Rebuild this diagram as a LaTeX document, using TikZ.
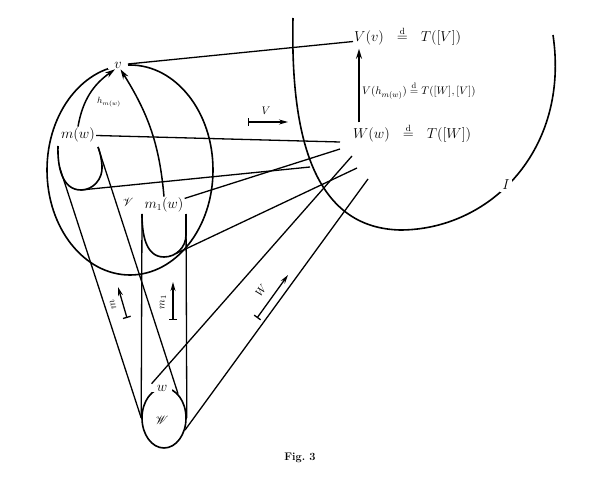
\documentclass[tikz,border=0pt]{standalone}
\usepackage{amsmath, amssymb}
\usepackage{mathrsfs}
\usetikzlibrary{positioning, arrows.meta, calc, shapes.geometric}
\newcommand{\deq}{\stackrel{\mathrm{d}}{=}}
\tikzset{
    set line/.style={line width=1.6pt, black},
    map line/.style={line width=1.3pt, black},
    label big/.style={fill=white, inner sep=1pt, font=\fontsize{13.5}{16}\selectfont},
    label small/.style={inner sep=1pt, font=\fontsize{11}{13}\selectfont},
    flow arrow/.style={line width=1.5pt, -{Stealth[length=10pt, width=6pt]}},
    dir arrow/.style={line width=1.3pt, {Bar[width=8pt]}-{Stealth[length=9pt, width=5pt]}},
}

\begin{document}
\begin{tikzpicture}[x=1pt, y=-1pt]
\useasboundingbox (0,0) rectangle (599,481);
% sets V, W and I
\node[draw, set line, ellipse, minimum width=166pt, minimum height=210pt, inner sep=0pt] (Vset) at (130,170) {};
\node[draw, set line, ellipse, minimum width=44pt, minimum height=60pt, inner sep=0pt] (Wset) at (164,418) {};
\draw[set line] (293,18) .. controls (290,150) and (320,228) .. (400,230) .. controls (490,230) and (570,150) .. (553,35);
% loops of m(w) and m1(w)
\draw[set line] (58,146) coordinate (mleft) to[out=-92,in=180] coordinate[pos=0.35] (mtan) (81,190) coordinate (mbot) to[out=0,in=-85] (102,166) to[out=95,in=-70] (98,147) coordinate (mright);
\draw[set line] (142,214) coordinate (m1left) to[out=-90,in=180] (164,257) to[out=0,in=-90] coordinate[pos=0.35] (m1tan) (186,235) -- (186,214) coordinate (m1right);
% labels
\node[label big, inner xsep=6pt] (v) at (118,65) {$v$};
\node[label big] (mw) at (78,135) {$m(w)$};
\node[label big] (m1w) at (164,205) {$m_1(w)$};
\node[label big, inner xsep=5pt] (w) at (162,388) {$w$};
\node[label big, inner sep=2pt] (I) at (506,185) {$I$};
\node[font=\fontsize{13}{15}\selectfont] (calV) at (128,202) {$\mathscr{V}$};
\node[font=\fontsize{12}{14}\selectfont] (calW) at (162,420) {$\mathscr{W}$};
\node[font=\fontsize{9}{11}\selectfont] (hlab) at (109,102) {$h_{m(w)}$};
\node[label big, anchor=base west] (Vv) at (353,42) {$V(v)\hskip9pt\deq\hskip9pt T([V])$};
\node[label big, anchor=base west] (Ww) at (352,139) {$W(w)\hskip9pt\deq\hskip9pt T([W])$};
\node[label small, anchor=base west] (hmap) at (361,95) {$V(h_{m(w)})\deq T([W],[V])$};
% converging ends
\coordinate (e0) at (310,167);
\coordinate (e1) at (340,142);
\coordinate (e2) at (340,149);
\coordinate (e3) at (352,156);
\coordinate (e4) at (357,168);
\coordinate (e5) at (368,179);
% maps
\draw[map line] (v) -- (Vv);
\draw[map line] (mw) -- (e1);
\draw[map line] (mbot) -- (e0);
\draw[map line] (m1w) -- (e2);
\draw[map line] (m1tan) -- (e4);
\draw[map line] (w.north west) -- (e3);
\draw[map line] (Wset.-30) -- (e5);
\draw[map line] (mtan) -- (Wset.west);
\draw[map line] (mright) -- (Wset.60);
\draw[map line] (m1left) -- (Wset.west);
\draw[map line] (m1right) -- (Wset.east);
% arrows inside V and I
\draw[flow arrow] (mw.north) to[out=80,in=-145] (v.-125);
\draw[flow arrow] (m1w.north) to[out=95,in=-58] (v.-60);
\draw[flow arrow, shorten >=2pt] ([xshift=7pt]Ww.north west) -- ([xshift=7pt]Ww.north west |- Vv.south);
% direction arrows
\coordinate (Vb) at (248,122);
\coordinate (Vt) at (288,122);
\draw[dir arrow] (Vb) -- (Vt);
\node[label small] (Vlab) at (266,111) {$V$};
\coordinate (mb) at (127,318);
\coordinate (mt) at (118,287);
\draw[dir arrow] (mb) -- (mt);
\node[label small, rotate=107] (mlab) at (113,305) {$m$};
\coordinate (m1b) at (173,320);
\coordinate (m1t) at (173,282);
\draw[dir arrow] (m1b) -- (m1t);
\node[label small, rotate=90] (m1lab) at (163,302) {$m_1$};
\coordinate (Wb) at (257,318);
\coordinate (Wt) at (288,275);
\draw[dir arrow] (Wb) -- (Wt);
\node[label small, rotate=54] (Wlab) at (261,291) {$W$};
% caption
\node[font=\bfseries\fontsize{11}{13}\selectfont] (cap) at (300,458) {Fig.~3};
\end{tikzpicture}
\end{document}
